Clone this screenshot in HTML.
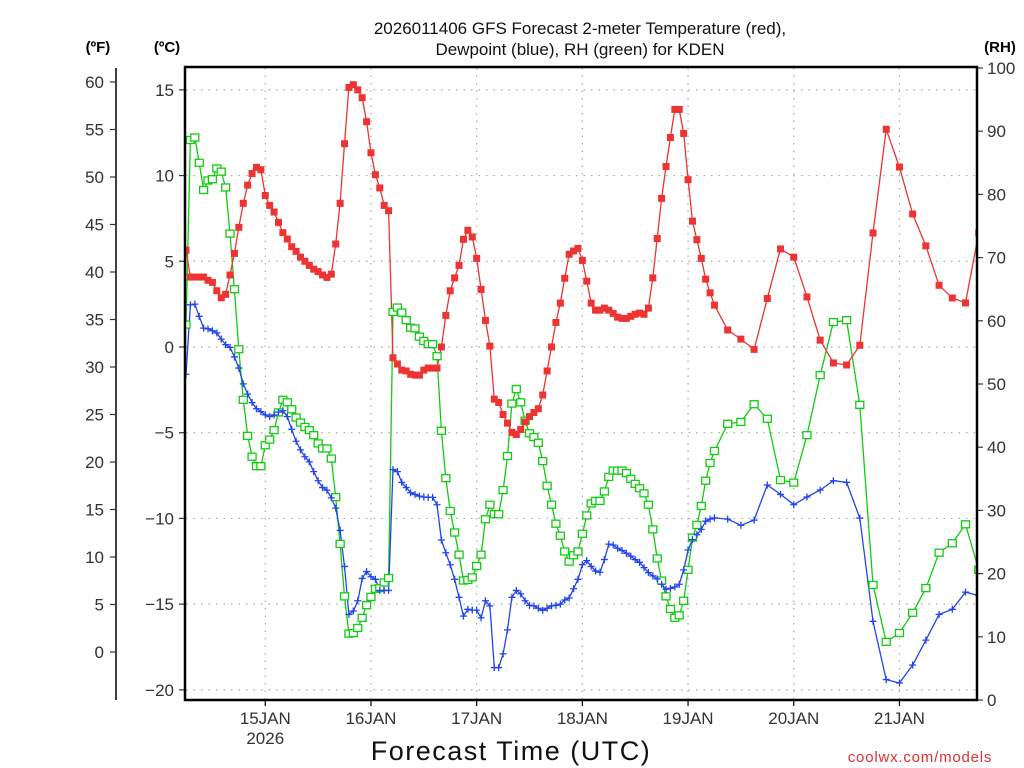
<!DOCTYPE html>
<html><head><meta charset="utf-8"><style>
html,body{margin:0;padding:0;background:#fff;}
svg{display:block;}
text{font-family:"Liberation Sans",sans-serif;}
</style></head><body>
<svg id="chart" width="1024" height="768" viewBox="0 0 1024 768" xmlns="http://www.w3.org/2000/svg">
<text x="580" y="34" font-size="17" text-anchor="middle" fill="#111">2026011406 GFS Forecast 2-meter Temperature (red),</text>
<text x="580" y="55" font-size="17" text-anchor="middle" fill="#111">Dewpoint (blue), RH (green) for KDEN</text>
<text x="98" y="52" font-size="15" font-weight="bold" text-anchor="middle">(ºF)</text>
<text x="167" y="52" font-size="15" font-weight="bold" text-anchor="middle">(ºC)</text>
<text x="1000" y="52" font-size="15" font-weight="bold" text-anchor="middle">(RH)</text>
<text x="511" y="760" font-size="27" text-anchor="middle" fill="#111" letter-spacing="1.5">Forecast Time (UTC)</text>
<text x="920" y="762" font-size="15" text-anchor="middle" fill="#e03030" letter-spacing="0.8">coolwx.com/models</text>
<g id="grid"></g><g id="axes"></g>
<defs><clipPath id="plotclip"><rect x="186" y="68" width="791" height="632"/></clipPath></defs>
<g id="series" clip-path="url(#plotclip)"></g>
<rect x="185" y="67" width="792" height="633" fill="none" stroke="#000" stroke-width="2.5"/>
</svg>
<script>
const tempC=[5.65,4.08,4.08,4.08,4.08,3.89,3.77,3.28,2.87,3.07,4.2,5.46,6.98,8.38,9.44,10.12,10.48,10.34,8.84,8.26,7.87,7.27,6.67,6.3,5.85,5.58,5.24,5.0,4.76,4.54,4.4,4.2,4.06,4.25,6.01,8.38,11.86,15.14,15.3,15.0,14.54,13.14,11.33,10.05,9.28,8.26,7.95,
-0.63,-0.99,-1.35,-1.4,-1.59,-1.64,-1.64,-1.35,-1.23,-1.23,-1.23,0.0,
1.84,3.28,4.03,4.76,6.28,6.81,6.42,5.17,3.36,1.55,0.05,-3.04,-3.24,-3.94,-4.44,-4.98,-5.1,-4.81,-4.37,-4.06,-3.82,-3.6,-2.8,-1.4,0.0,1.43,2.56,4.01,5.41,5.6,5.75,5.05,3.84,2.56,2.15,
2.15,2.27,2.15,1.96,1.74,1.67,1.67,1.79,1.91,1.98,1.91,2.27,4.03,6.33,8.67,10.53,12.22,13.86,13.86,12.46,9.76,7.34,6.26,5.17,3.96,3.16,2.44,
0.99,0.46,-0.14,2.83,5.72,5.24,2.92,0.4,-0.93,-1.05,0.1,6.65,12.7,10.5,7.76,5.9,3.6,2.86,2.57,6.65];
const dewC=[-1.59,2.46,2.5,1.79,1.1,1.06,0.95,0.82,0.46,0.14,-0.02,-0.58,-1.23,-2.15,-2.75,-3.24,-3.6,-3.77,-3.96,-4.06,-3.96,-3.8,-3.72,-4.06,-4.8,-5.5,-6.0,-6.4,-6.7,-7.27,-7.8,-8.2,-8.35,-8.8,-9.4,-10.7,-12.8,-15.6,-15.4,-14.8,-13.5,-13.1,-13.4,-13.55,-14.2,-14.2,-14.2,
-7.15,-7.27,-7.9,-8.2,-8.5,-8.6,-8.7,-8.75,-8.77,-8.77,-9.2,
-11.26,-12.0,-12.7,-13.55,-14.6,-15.7,-15.3,-15.35,-15.35,-15.8,-14.8,-15.1,
-18.7,-18.7,-17.9,-16.5,-14.6,-14.2,-14.4,-14.8,-15.07,-15.1,-15.24,-15.36,-15.24,-15.1,-15.07,-15.0,-14.76,-14.64,-14.1,-13.55,-12.7,
-12.46,-12.8,-13.07,-13.14,-12.4,-11.5,-11.55,-11.74,-11.87,-12.03,-12.2,-12.4,-12.56,-12.87,-13.16,-13.35,-13.53,-13.84,-14.13,-14.08,-14.0,-13.84,-13.0,-11.84,-11.24,-10.95,-10.64,-10.16,-10.04,-9.97,
-10.04,-10.4,-10.1,-8.05,-8.6,-9.2,-8.75,-8.34,-7.8,-7.9,-9.98,-16.0,-19.4,-19.6,-18.55,-17.1,-15.6,-15.3,-14.3,-14.5];
const rhPct=[59.4,88.6,89.0,85.0,80.7,82.2,82.4,84.1,83.6,81.1,73.8,65.0,55.5,47.5,41.8,38.5,37.0,37.0,40.3,41.2,42.7,45.5,47.5,47.1,46.0,44.7,43.9,43.2,42.7,41.9,40.6,39.8,39.8,38.2,32.1,24.7,16.4,10.5,10.6,11.4,13.0,15.0,16.3,17.6,17.7,18.6,19.3,
61.4,62.1,61.3,60.1,58.9,58.8,57.5,56.8,56.3,56.3,54.4,
42.6,35.1,29.9,26.5,23.0,18.9,19.0,19.4,21.2,23.0,
28.6,30.9,29.4,29.4,33.2,38.6,46.9,49.2,47.1,44.2,42.2,
41.6,40.7,37.8,33.9,30.9,27.9,26.0,23.5,21.9,22.9,
23.5,26.3,29.2,31.1,31.5,
31.5,33.0,35.3,36.3,36.3,36.3,35.9,35.0,34.2,33.5,32.7,30.9,
27.0,22.4,18.9,16.4,14.4,13.0,13.4,15.7,20.6,25.7,27.7,30.7,34.7,37.5,39.4,
43.7,44.0,46.8,44.5,34.8,34.4,41.9,51.4,59.8,60.1,46.7,18.2,9.2,10.6,13.8,17.7,23.3,24.8,27.8,20.6];
const dayLabels=["15JAN","16JAN","17JAN","18JAN","19JAN","20JAN","21JAN"];
const dayHours=[18,42,66,90,114,138,162];
const fTicks=[0,5,10,15,20,25,30,35,40,45,50,55,60];
const cTicks=[-20,-15,-10,-5,0,5,10,15];
const rhTicks=[0,10,20,30,40,50,60,70,80,90,100];

const hours=[];
for(let h=0;h<=120;h++)hours.push(h);
for(let h=123;h<=180;h+=3)hours.push(h);

const NS="http://www.w3.org/2000/svg";
const X=h=>186+h*4.404;
const YC=c=>347-c*17.143;
const YF=f=>652-f*9.5;
const YR=r=>700-r*6.32;
function mk(tag,attrs,parent){const e=document.createElementNS(NS,tag);for(const k in attrs)e.setAttribute(k,attrs[k]);parent.appendChild(e);return e;}
const grid=document.getElementById('grid'),axes=document.getElementById('axes'),ser=document.getElementById('series');

cTicks.forEach(c=>{
 const g=mk('line',{x1:186,x2:977,y1:YC(c),y2:YC(c),stroke:'#aaa','stroke-width':1.2,'stroke-dasharray':'1.5 6'},grid);
 
 
 const t=mk('line',{x1:179,x2:185,y1:YC(c),y2:YC(c),stroke:'#333','stroke-width':1.2},axes);
 
 
 const l=mk('text',{x:174,y:YC(c)+6,'font-size':17,'text-anchor':'end',fill:'#333'},axes);
 
 
 l.textContent=c<0?'\u2212'+(-c):String(c);
});
dayHours.forEach((h,i)=>{
 const g=mk('line',{x1:X(h),x2:X(h),y1:68,y2:700,stroke:'#aaa','stroke-width':1.2,'stroke-dasharray':'1.5 6'},grid);
 
 
 const t=mk('line',{x1:X(h),x2:X(h),y1:700,y2:706,stroke:'#000','stroke-width':1.2},axes);
 
 
 const l=mk('text',{x:X(h),y:724,'font-size':17,'text-anchor':'middle',fill:'#333'},axes);
 
 
 l.textContent=dayLabels[i];
});
const yr=mk('text',{x:X(dayHours[0]),y:744,'font-size':17,'text-anchor':'middle',fill:'#333'},axes);


yr.textContent='2026';

const fl=mk('line',{x1:116,x2:116,y1:68,y2:700,stroke:'#000','stroke-width':1.5},axes);


fTicks.forEach(f=>{
 const t=mk('line',{x1:110,x2:116,y1:YF(f),y2:YF(f),stroke:'#333','stroke-width':1.2},axes);
 
 
 const l=mk('text',{x:104,y:YF(f)+6,'font-size':17,'text-anchor':'end',fill:'#333'},axes);
 
 
 l.textContent=String(f);
});
rhTicks.forEach(r=>{
 const t=mk('line',{x1:977,x2:983,y1:YR(r),y2:YR(r),stroke:'#333','stroke-width':1.2},axes);
 
 
 const l=mk('text',{x:987,y:YR(r)+6,'font-size':17,'text-anchor':'start',fill:'#333'},axes);
 
 
 l.textContent=String(r);
});

function drawLine(vals,yf,color,name){
 const pts=vals.map((v,i)=>X(hours[i]).toFixed(1)+','+yf(v).toFixed(1)).join(' ');
 const p=mk('polyline',{points:pts,fill:'none',stroke:color,'stroke-width':1.3},ser);
 
 
}
drawLine(rhPct,YR,'#11cc11','rh-line');
drawLine(dewC,YC,'#2244ee','dewpoint-line');
drawLine(tempC,YC,'#ee3333','temperature-line');
rhPct.forEach((v,i)=>{
 const r=mk('rect',{x:X(hours[i])-4,y:YR(v)-3.5,width:8,height:7,fill:'#fff',stroke:'#11cc11','stroke-width':1.3},ser);
 
 
});
dewC.forEach((v,i)=>{
 const x=X(hours[i]),y=YC(v);
 const p=mk('path',{d:`M${x-3.5} ${y}H${x+3.5}M${x} ${y-3.5}V${y+3.5}`,stroke:'#2244ee','stroke-width':1.3,fill:'none'},ser);
 
 
});
tempC.forEach((v,i)=>{
 const r=mk('rect',{x:X(hours[i])-3.5,y:YC(v)-3.5,width:7,height:7,fill:'#ee3333'},ser);
 
 
});
</script>
</body></html>
